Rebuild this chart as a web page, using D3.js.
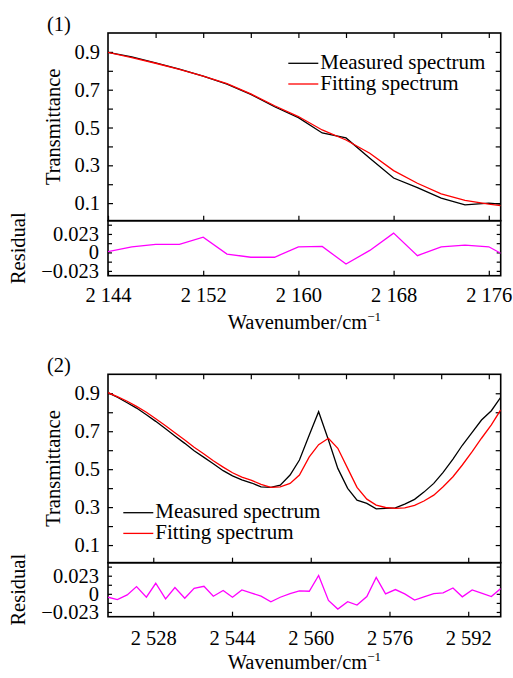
<!DOCTYPE html>
<html>
<head>
<meta charset="utf-8">
<script src="https://d3js.org/d3.v7.min.js"></script>
<style>
  body { margin: 0; background: #fff; }
  svg { display: block; }
  svg text { font-family: "Liberation Serif", "Times New Roman", serif; }
</style>
</head>
<body>
<script>
// Width, Height and plot box
var w = 513;
var h = 678;
var left = 108;
var right = 500.7;

/**** Panel (1) data ****/
var wave1 = [2144, 2146, 2148, 2150, 2152, 2154, 2156, 2158, 2160, 2162, 2164, 2166, 2168, 2170, 2172, 2174, 2176, 2177];
var measured1 = [0.898, 0.874, 0.842, 0.809, 0.772, 0.730, 0.675, 0.610, 0.552, 0.471, 0.445, 0.337, 0.233, 0.182, 0.126, 0.091, 0.100, 0.095];
var fitting1 = [0.898, 0.870, 0.840, 0.808, 0.772, 0.732, 0.678, 0.615, 0.558, 0.487, 0.434, 0.364, 0.272, 0.205, 0.149, 0.114, 0.095, 0.087];
var residual1 = [0.001, 0.007, 0.010, 0.010, 0.019, -0.002, -0.006, -0.006, 0.007, 0.0075, -0.0145, 0.0025, 0.024, -0.004, 0.007, 0.009, 0.007, -0.001];
var xTicks1 = [2144, 2152, 2160, 2168, 2176];
var xMinor1 = [2148, 2152, 2156, 2160, 2164, 2168, 2172, 2176];

/**** Panel (2) data ****/
var wave2 = [2518.8, 2520.7, 2522.7, 2524.6, 2526.6, 2528.5, 2530.5, 2532.4, 2534.4, 2536.3,
             2538.3, 2540.2, 2542.2, 2544.1, 2546.0, 2548.0, 2549.9, 2551.9, 2553.8, 2555.8,
             2557.7, 2559.7, 2561.6, 2563.6, 2565.5, 2567.5, 2569.4, 2571.4, 2573.3, 2575.2,
             2577.2, 2579.1, 2581.1, 2583.0, 2585.0, 2586.9, 2588.9, 2590.8, 2592.8, 2594.7,
             2596.7, 2598.6];
var measured2 = [0.903, 0.879, 0.850, 0.822, 0.787, 0.752, 0.713, 0.675, 0.636, 0.597,
                 0.562, 0.529, 0.492, 0.465, 0.444, 0.427, 0.407, 0.404, 0.416, 0.469,
                 0.548, 0.680, 0.803, 0.654, 0.504, 0.399, 0.337, 0.320, 0.291, 0.293,
                 0.296, 0.316, 0.341, 0.379, 0.425, 0.483, 0.553, 0.626, 0.694, 0.759,
                 0.808, 0.879];
var fitting2 = [0.903, 0.882, 0.858, 0.831, 0.800, 0.766, 0.729, 0.692, 0.654, 0.615,
                0.580, 0.544, 0.511, 0.481, 0.458, 0.441, 0.420, 0.404, 0.407, 0.425,
                0.469, 0.565, 0.629, 0.663, 0.610, 0.504, 0.404, 0.342, 0.311, 0.298,
                0.293, 0.296, 0.309, 0.332, 0.363, 0.407, 0.460, 0.522, 0.592, 0.663,
                0.733, 0.812];
var residual2 = [-0.0043, -0.0072, -0.0013, 0.0092, -0.0043, 0.0134, -0.0063, 0.008, -0.0055, 0.0071,
                 0.0096, -0.003, 0.0042, -0.0043, 0.005, 0.001, -0.003, -0.010, -0.0043, 0.0004,
                 0.0038, 0.0033, 0.0234, -0.0084, -0.0193, -0.010, -0.0143, -0.0034, 0.0209, 0,
                 0.0054, 0, -0.008, -0.0038, 0.0004, 0.0013, 0.0075, -0.0038, 0.005, 0.0008,
                 -0.0034, 0.0067];
var xTicks2 = [2528, 2544, 2560, 2576, 2592];

/**** shared tick labels ****/
var yTicks = [0.1, 0.3, 0.5, 0.7, 0.9];
var yAll = [0.1, 0.2, 0.3, 0.4, 0.5, 0.6, 0.7, 0.8, 0.9];
var rTicks = [-0.023, 0, 0.023];
var rAll = [-0.023, -0.0115, 0, 0.0115, 0.023, 0.0345];
var legendNames = ["Measured spectrum", "Fitting spectrum"];
var legendColors = ["#000", "#ff0000"];

var svg = d3.select("body")
            .append("svg")
            .attr("width", w)
            .attr("height", h);

var x1 = d3.scaleLinear().domain([2144, 2177]).range([left, right]);
var x2 = d3.scaleLinear().domain([2518.8, 2598.6]).range([left, right]);

var fmtX = function(d) {
  var s = String(d);
  return s.slice(0, 1) + " " + s.slice(1);
};
var fmtR = function(d) {
  if (d === 0) return "0";
  return (d < 0 ? "\u2212" : "") + Math.abs(d).toFixed(3);
};

// style an axis group: thin black ticks, serif text, no domain path
function styleAxis(g) {
  g.select(".domain").remove();
  g.selectAll("line").attr("stroke", "#000").attr("stroke-width", 1.2);
  g.attr("font-family", null).attr("font-size", 20.5);
  g.selectAll("text").attr("fill", "#000");
}

function drawPanel(p) {
  var yT = d3.scaleLinear().domain([0.007, 1.0]).range([p.mid, p.top]);
  var yR = d3.scaleLinear().domain([-0.029, 0.0395]).range([p.bot, p.mid]);
  var x = p.x;

  var clipId = "clip" + p.id;
  svg.append("clipPath").attr("id", clipId)
     .append("rect")
     .attr("x", left).attr("y", p.top)
     .attr("width", right - left).attr("height", p.bot - p.top);

  /**** axes: upper plot ****/
  svg.append("g")
     .attr("transform", "translate(" + left + ",0)")
     .call(d3.axisLeft(yT).tickValues(yAll).tickSizeInner(-5).tickSizeOuter(0).tickPadding(8)
             .tickFormat(function(d) { return yTicks.indexOf(d) >= 0 ? d.toFixed(1) : ""; }))
     .call(styleAxis);
  svg.append("g")
     .attr("transform", "translate(" + right + ",0)")
     .call(d3.axisRight(yT).tickValues(yAll).tickSizeInner(-5).tickSizeOuter(0).tickFormat(""))
     .call(styleAxis);
  svg.append("g")
     .attr("transform", "translate(0," + p.top + ")")
     .call(d3.axisTop(p.xTop).tickValues(xMinor1).tickSizeInner(-5).tickSizeOuter(0).tickFormat(""))
     .call(styleAxis);
  svg.append("g")
     .attr("transform", "translate(0," + p.mid + ")")
     .call(d3.axisBottom(x).tickValues(p.xTicks).tickSizeInner(-5).tickSizeOuter(0).tickFormat(""))
     .call(styleAxis);

  /**** axes: residual plot ****/
  svg.append("g")
     .attr("transform", "translate(" + left + ",0)")
     .call(d3.axisLeft(yR).tickValues(rAll).tickSizeInner(-4).tickSizeOuter(0).tickPadding(9)
             .tickFormat(function(d) { return rTicks.indexOf(d) >= 0 ? fmtR(d) : ""; }))
     .call(styleAxis);
  svg.append("g")
     .attr("transform", "translate(" + right + ",0)")
     .call(d3.axisRight(yR).tickValues(rAll).tickSizeInner(-4).tickSizeOuter(0).tickFormat(""))
     .call(styleAxis);
  svg.append("g")
     .attr("transform", "translate(0," + p.bot + ")")
     .call(d3.axisBottom(x).tickValues(p.xTicks).tickSizeInner(-5).tickSizeOuter(0)
             .tickPadding(p.labPad).tickFormat(fmtX))
     .call(styleAxis);

  /**** frames ****/
  svg.append("rect")
     .attr("x", left).attr("y", p.top)
     .attr("width", right - left).attr("height", p.mid - p.top)
     .attr("fill", "none").attr("stroke", "#000").attr("stroke-width", 1.6);
  svg.append("rect")
     .attr("x", left).attr("y", p.mid)
     .attr("width", right - left).attr("height", p.bot - p.mid)
     .attr("fill", "none").attr("stroke", "#000").attr("stroke-width", 1.6);

  /**** lines ****/
  var idx = d3.range(p.wave.length);
  var lineT = function(vals) {
    return d3.line().x(function(i) { return x(p.wave[i]); })
                    .y(function(i) { return yT(vals[i]); });
  };
  var plot = svg.append("g").attr("clip-path", "url(#" + clipId + ")");
  plot.append("path").datum(idx)
      .attr("d", lineT(p.measured))
      .attr("fill", "none").attr("stroke", legendColors[0]).attr("stroke-width", 1.3);
  plot.append("path").datum(idx)
      .attr("d", lineT(p.fitting))
      .attr("fill", "none").attr("stroke", legendColors[1]).attr("stroke-width", 1.3);
  plot.append("path").datum(idx)
      .attr("d", d3.line().x(function(i) { return x(p.wave[i]); })
                          .y(function(i) { return yR(p.residual[i]); }))
      .attr("fill", "none").attr("stroke", "#ff00ff").attr("stroke-width", 1.3);

  /**** legend ****/
  var leg = svg.append("g");
  legendNames.forEach(function(name, i) {
    var ly = p.legY + i * 20.7;
    leg.append("line")
       .attr("x1", p.legX).attr("x2", p.legX + 30)
       .attr("y1", ly).attr("y2", ly)
       .attr("stroke", legendColors[i]).attr("stroke-width", 1.3);
    leg.append("text")
       .attr("x", p.legX + 32).attr("y", ly + 5.5)
       .attr("font-size", 21)
       .text(name);
  });

  /**** labels ****/
  svg.append("text")
     .attr("x", 47).attr("y", p.top - 2.5)
     .attr("font-size", 20.5)
     .text(p.name);
  svg.append("text")
     .attr("transform", "translate(60," + ((p.top + p.mid) / 2) + ") rotate(-90)")
     .attr("text-anchor", "middle")
     .attr("font-size", 20.5)
     .text("Transmittance");
  svg.append("text")
     .attr("transform", "translate(25," + ((p.mid + p.bot) / 2) + ") rotate(-90)")
     .attr("text-anchor", "middle")
     .attr("font-size", 20.5)
     .text("Residual");
  var xt = svg.append("text")
     .attr("x", (left + right) / 2).attr("y", p.xTitleY)
     .attr("text-anchor", "middle")
     .attr("font-size", 20.5);
  xt.append("tspan").text("Wavenumber/cm");
  xt.append("tspan").attr("dy", -8).attr("font-size", 13).text("\u22121");
}

drawPanel({
  id: "p1", name: "(1)", top: 33, mid: 220.7, bot: 275.7,
  x: x1, xTop: x1, xTicks: xTicks1,
  wave: wave1, measured: measured1, fitting: fitting1, residual: residual1,
  legX: 288.3, legY: 63.3, labPad: 12, xTitleY: 329
});

drawPanel({
  id: "p2", name: "(2)", top: 374.3, mid: 562.7, bot: 616.7,
  x: x2, xTop: x1, xTicks: xTicks2,
  wave: wave2, measured: measured2, fitting: fitting2, residual: residual2,
  legX: 123.3, legY: 512.7, labPad: 14, xTitleY: 669
});
</script>
</body>
</html>
